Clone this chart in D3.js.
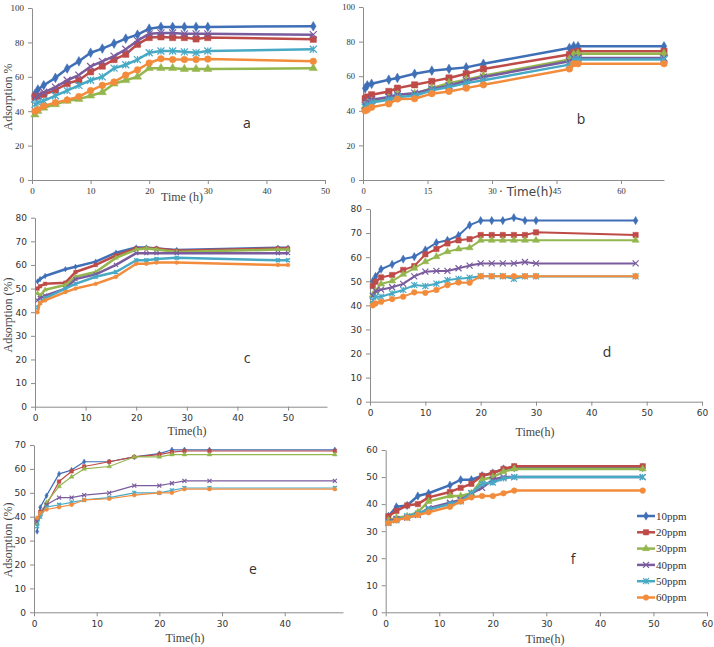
<!DOCTYPE html>
<html>
<head>
<meta charset="utf-8">
<script src="https://cdn.jsdelivr.net/npm/d3@7"></script>
<style>
  body { margin: 0; background: #fff; }
  svg { display: block; }
  text { font-weight: normal; }
</style>
</head>
<body>
<div id="chart"></div>
<script>
var names = ["10ppm", "20ppm", "30ppm", "40ppm", "50ppm", "60ppm"];
var colors = ["#3f6fb6", "#be4b48", "#94b64e", "#7a5c9e", "#48a9c5", "#f28c3c"];

// panel a
var timeA = [0.5, 1, 2, 4, 6, 8, 10, 12, 14, 16, 18, 20, 22, 24, 26, 28, 30, 48];
var adsA = [
  [50, 52.6, 55.1, 59.4, 64.8, 69, 74, 76.4, 79.3, 82.2, 84.5, 88, 89, 89, 89, 89, 89, 89.4],
  [48.4, 48.7, 49.7, 52.2, 56.1, 58, 62.9, 66.2, 70, 73.1, 78.9, 82.8, 83.2, 82.8, 82.8, 82, 82.8, 81.8],
  [38, 40, 42, 44, 46, 47, 49, 51, 56, 58, 60, 65, 65, 65, 64.5, 64.5, 64.5, 65],
  [47, 49, 51, 54, 58, 61, 66, 69, 72, 76, 81, 85, 85.5, 85.5, 85, 85, 85, 84.5],
  [44, 45, 46, 49, 52, 55, 58, 60, 65, 67, 70, 74, 75, 75, 74.5, 74, 75, 76],
  [40, 41, 43, 45, 46.5, 48.5, 52, 55, 57, 61, 64, 68, 70.5, 70, 70, 70, 70.3, 69]
];

// panel b
var timeB = [0.5, 1, 2, 6, 8, 12, 16, 20, 24, 28, 48, 49, 50, 70];
var adsB = [
  [53, 54.7, 55.6, 58, 59, 61.4, 63.2, 64.2, 65.1, 67.2, 76.3, 77.3, 77.3, 77.3],
  [47, 48, 49.3, 51.2, 53.1, 55, 57, 59, 61.4, 64.2, 72.5, 73.8, 74.4, 74.4],
  [42.5, 44.4, 45.4, 47.3, 49.3, 49.8, 53.1, 56, 58, 60.3, 69.6, 72.5, 73, 73],
  [43, 45.4, 46.4, 48, 49.3, 50.2, 52.6, 54.5, 57.4, 59.5, 68.6, 70.5, 70.5, 70.5],
  [42, 43.5, 44.8, 46.4, 48, 48.7, 51.8, 53.7, 56, 57.6, 66.7, 69.6, 69.6, 69.6],
  [40, 40.6, 42, 44, 46.8, 47, 49.9, 51.2, 53.1, 55, 64.2, 67.2, 67.2, 67.2]
];

// panel c
var timeC = [0.5, 1, 2, 6, 8, 12, 16, 20, 22, 24, 28, 48, 50];
var adsC = [
  [53, 54, 55.3, 58.2, 59.2, 61.4, 65.2, 67.4, 67.4, 67, 66.3, 67.3, 67.3],
  [50, 51, 52, 52.5, 57, 60, 64, 67, 67, 67, 66, 67, 67],
  [48, 47, 49.5, 51.5, 55, 57, 63, 66.5, 67, 66.5, 65.5, 66.5, 66.5],
  [45, 46, 47, 50, 54, 56, 60, 65, 65, 65, 65, 65, 65],
  [42, 44, 46, 50, 52, 55, 57, 62, 62, 62.5, 63, 62, 62],
  [40, 44, 45, 48.5, 50, 52, 55, 60.5, 60.5, 61, 61, 60, 60]
];

// panel d
var timeD = [0.5, 1, 2, 4, 6, 8, 10, 12, 14, 16, 18, 20, 22, 24, 26, 28, 30, 48];
var adsD = [
  [50, 52, 55, 57, 59.2, 60.2, 63, 66, 67, 69, 73.3, 75.2, 75.2, 75.2, 76.4, 75.2, 75.2, 75.2],
  [48, 49.8, 51.6, 52.6, 54.7, 56.3, 61.2, 63.4, 65.7, 67, 67.5, 69.2, 69.2, 69.2, 69.2, 69.2, 70.3, 69.2],
  [44.3, 46, 48.9, 50.1, 52.9, 55.4, 58.1, 60.2, 62.3, 63.4, 63.9, 67, 67, 67, 67, 67, 67, 67],
  [44, 46, 46.5, 47.5, 48.9, 52, 54, 54.3, 54.3, 55.4, 56.5, 57.4, 57.4, 57.4, 57.4, 58, 57.4, 57.4],
  [42, 43.6, 43.6, 45, 46.4, 48.4, 48, 49, 50.5, 51, 51.5, 52.1, 52.1, 52.1, 51, 52, 52, 52],
  [40, 40.8, 41.5, 42.6, 43.6, 45.4, 45.2, 46.4, 48.4, 49.5, 49.4, 52.1, 52.1, 52.1, 52.1, 52.1, 52.1, 52.1]
];

// panel e
var timeE = [0.5, 1, 2, 4, 6, 8, 12, 16, 20, 22, 24, 28, 48];
var adsE = [
  [33.8, 43.9, 48.8, 57.9, 59.5, 63, 63, 65, 66.4, 68, 68, 68, 68],
  [38.6, 42, 45, 54.7, 59, 61, 63, 65, 66, 67, 67.5, 67.5, 67.5],
  [37, 41, 46, 52.7, 56.7, 60, 61, 65, 65, 66, 66, 66, 66],
  [38, 41, 45, 48, 48, 49, 50, 53, 53, 54, 55, 55, 55],
  [36, 40, 44, 45, 46, 47, 48, 50, 50, 51, 52, 52, 52],
  [39.5, 41.5, 43, 44, 45, 47, 47.5, 49, 50, 50, 51.5, 51.5, 51.5]
];

// panel f
var timeF = [0.5, 2, 4, 6, 8, 12, 14, 16, 18, 20, 22, 24, 48];
var adsF = [
  [35.5, 39, 39.5, 43, 44, 47, 49, 49, 50.5, 51.5, 53, 53.5, 53.5],
  [35.5, 37.5, 39.5, 40, 42.5, 44.5, 46, 47.5, 50.5, 51.5, 53, 54, 54],
  [34, 35, 35.5, 37, 41, 43, 43, 44, 49, 50, 52, 53, 53],
  [33.5, 34.5, 35, 36, 38.5, 40.5, 41.5, 44, 46, 49, 50, 50, 50],
  [33, 34, 35.5, 36.5, 38, 40, 41, 44, 47.5, 48, 49.5, 50, 50],
  [33, 34, 35, 36, 37, 39, 41, 42.5, 43, 43, 44, 45, 45]
];

var serif = "'Liberation Serif', 'Times New Roman', serif";
var sans = "'DejaVu Sans', Verdana, sans-serif";

var svg = d3.select("#chart").append("svg")
    .attr("width", 714)
    .attr("height", 647);

var panels = [
  {time: timeA, ads: adsA, xr: [32, 325], xd: [0, 50], yr: [180, 8], yd: [0, 100],
   xt: [0, 10, 20, 30, 40, 50], yt: [0, 20, 40, 60, 80, 100], tf: serif, ts: 9, ms: 7, lw: 2.5,
   letter: "a", lx: 247, ly: 128, xl: "Time (h)", xlx: 182, xly: 201, yl: "Adsorption %", ylx: 12, yly: 97},
  {time: timeB, ads: adsB, xr: [363, 664], xd: [0, 70], yr: [180, 7], yd: [0, 100],
   xt: [0, 15, 30, 45, 60], yt: [0, 20, 40, 60, 80, 100], tf: serif, ts: 8.5, ms: 7, lw: 2.5,
   letter: "b", lx: 581, ly: 124, xl: "\u00b7 Time(h)", xlx: 526, xly: 196, xlf: sans},
  {time: timeC, ads: adsC, xr: [35, 327], xd: [0, 57.7], yr: [406.7, 217.7], yd: [0, 80],
   xt: [0, 10, 20, 30, 40, 50], yt: d3.range(0, 81, 10), tf: sans, ts: 9, ms: 4, lw: 2.5,
   letter: "c", lx: 247, ly: 363, xl: "Time(h)", xlx: 187, xly: 435, yl: "Adsorption (%)", ylx: 12, yly: 315},
  {time: timeD, ads: adsD, xr: [370, 702], xd: [0, 60], yr: [401.7, 209], yd: [0, 80],
   xt: d3.range(0, 61, 10), yt: d3.range(0, 81, 10), tf: sans, ts: 9, ms: 6, lw: 2,
   letter: "d", lx: 607, ly: 357, xl: "Time(h)", xlx: 535, xly: 436},
  {time: timeE, ads: adsE, xr: [34, 343], xd: [0, 49.3], yr: [612.3, 445], yd: [0, 70],
   xt: [0, 10, 20, 30, 40], yt: d3.range(0, 71, 10), tf: sans, ts: 9, ms: 4, lw: 1.2,
   letter: "e", lx: 253, ly: 574, xl: "Time(h)", xlx: 185, xly: 642, yl: "Adsorption (%)", ylx: 12, yly: 540},
  {time: timeF, ads: adsF, xr: [385.7, 707], xd: [0, 60], yr: [612.3, 450], yd: [0, 60],
   xt: d3.range(0, 61, 10), yt: d3.range(0, 61, 10), tf: sans, ts: 9, ms: 6, lw: 2.5,
   letter: "f", lx: 573, ly: 564, xl: "Time(h)", xlx: 545, xly: 643, legend: true}
];

// marker shapes for each series
function markerPath(i, s) {
  var h = s / 2;
  if (i == 0) return d3.symbol().type(d3.symbolDiamond).size(s * s * 0.55)();
  if (i == 1) return d3.symbol().type(d3.symbolSquare).size(s * s * 0.8)();
  if (i == 2) return d3.symbol().type(d3.symbolTriangle).size(s * s * 0.6)();
  if (i == 3) return "M" + -h + "," + -h + "L" + h + "," + h + "M" + -h + "," + h + "L" + h + "," + -h;
  if (i == 4) return "M" + -h + "," + -h + "L" + h + "," + h + "M" + -h + "," + h + "L" + h + "," + -h +
                     "M0," + -h + "L0," + h;
  return d3.symbol().type(d3.symbolCircle).size(s * s * 0.7)();
}

function drawMarker(sel, i, s, col) {
  var filled = (i != 3 && i != 4);
  sel.append("path")
      .attr("d", markerPath(i, s))
      .attr("fill", filled ? col : "none")
      .attr("stroke", col)
      .attr("stroke-width", filled ? 0.5 : 1.2);
}

panels.forEach(function(p) {
  var x = d3.scaleLinear().domain(p.xd).range(p.xr);
  var y = d3.scaleLinear().domain(p.yd).range(p.yr);
  var g = svg.append("g");

  var xAxis = g.append("g")
      .attr("transform", "translate(0," + p.yr[0] + ")")
      .call(d3.axisBottom(x).tickValues(p.xt).tickSize(4).tickSizeOuter(0).tickPadding(4));
  var yAxis = g.append("g")
      .attr("transform", "translate(" + p.xr[0] + ",0)")
      .call(d3.axisLeft(y).tickValues(p.yt).tickSize(4).tickSizeOuter(0).tickPadding(4));

  [xAxis, yAxis].forEach(function(a) {
    a.select(".domain").attr("stroke", "#8c8c8c");
    a.selectAll(".tick line").attr("stroke", "#8c8c8c");
    a.selectAll(".tick text")
        .attr("fill", "#333")
        .style("font-family", p.tf)
        .style("font-size", p.ts + "px");
  });

  var line = d3.line()
      .x(function(d) { return x(d[0]); })
      .y(function(d) { return y(d[1]); });

  p.ads.forEach(function(vals, i) {
    var pts = vals.map(function(v, k) { return [p.time[k], v]; });
    g.append("path")
        .datum(pts)
        .attr("fill", "none")
        .attr("stroke", colors[i])
        .attr("stroke-width", p.lw)
        .attr("stroke-linejoin", "round")
        .attr("d", line);

    g.selectAll(".m" + i)
        .data(pts)
      .enter().append("g")
        .attr("transform", function(d) { return "translate(" + x(d[0]) + "," + y(d[1]) + ")"; })
        .each(function() { drawMarker(d3.select(this), i, p.ms, colors[i]); });
  });

  g.append("text")
      .attr("x", p.lx)
      .attr("y", p.ly)
      .attr("text-anchor", "middle")
      .style("font-family", "'Open Sans', sans-serif")
      .style("font-size", "14px")
      .attr("fill", "#333")
      .text(p.letter);

  g.append("text")
      .attr("x", p.xlx)
      .attr("y", p.xly)
      .attr("text-anchor", "middle")
      .style("font-family", p.xlf || serif)
      .style("font-size", "12px")
      .attr("fill", "#444")
      .text(p.xl);

  if (p.yl) {
    g.append("text")
        .attr("transform", "translate(" + p.ylx + "," + p.yly + ") rotate(-90)")
        .attr("text-anchor", "middle")
        .style("font-family", serif)
        .style("font-size", "12px")
        .attr("fill", "#444")
        .text(p.yl);
  }

  if (p.legend) {
    var lg = g.selectAll(".legend")
        .data(names)
      .enter().append("g")
        .attr("transform", function(d, i) { return "translate(637," + (516 + i * 16.3) + ")"; });
    lg.append("line")
        .attr("x1", 0).attr("x2", 18)
        .attr("stroke", function(d, i) { return colors[i]; })
        .attr("stroke-width", 2.5);
    lg.each(function(d, i) {
      var m = d3.select(this).append("g").attr("transform", "translate(9,0)");
      drawMarker(m, i, 6, colors[i]);
    });
    lg.append("text")
        .attr("x", 19)
        .attr("dy", "0.35em")
        .style("font-family", serif)
        .style("font-size", "11px")
        .attr("fill", "#333")
        .text(function(d) { return d; });
  }
});
</script>
</body>
</html>
